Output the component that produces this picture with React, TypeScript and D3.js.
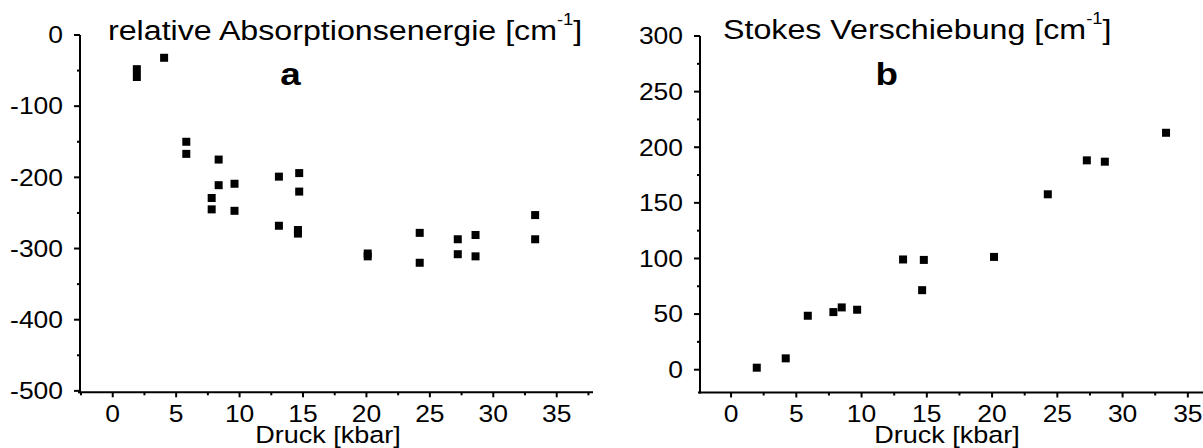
import React from "react";
import * as d3 from "d3";

// Panel a: relative absorption energy vs pressure
const pressureA = [1.9, 1.9, 4.05, 5.8, 5.8, 8.35, 8.35, 9.6, 7.8, 7.8, 9.6, 13.1, 14.7, 14.7, 13.1, 14.6, 14.6, 20.1, 20.1, 24.2, 24.2, 27.2, 27.2, 28.6, 28.6, 33.3, 33.3];
const energyA = [-48, -59, -32, -150, -167, -175, -211, -209, -229, -245, -247, -199, -194, -220, -268, -274, -279, -307, -311, -278, -320, -287, -308, -281, -311, -253, -287];

// Panel b: Stokes shift vs pressure
const pressureB = [1.97, 4.19, 5.88, 7.84, 8.48, 9.66, 13.18, 14.77, 14.64, 20.15, 24.27, 27.26, 28.64, 33.33];
const stokesB = [1.8, 10.2, 48.5, 51.8, 56, 53.9, 99.1, 98.7, 71.5, 101.4, 157.7, 188.2, 187, 213];

const xTicks = [0, 5, 10, 15, 20, 25, 30, 35];
const xMinorTicks = [-2.5, 2.5, 7.5, 12.5, 17.5, 22.5, 27.5, 32.5, 37.5];
const yTicksA = [0, -100, -200, -300, -400, -500];
const yMinorA = [-50, -150, -250, -350, -450];
const yTicksB = [0, 50, 100, 150, 200, 250, 300];
const yMinorB = [25, 75, 125, 175, 225, 275];

const FONT = "'Liberation Sans', Arial, Helvetica, sans-serif";
const SX = 1.15;

function SText({ x, y, size, anchor = "start", weight = "normal", children }: any) {
  return (
    <g transform={`translate(${x},${y}) scale(${SX},1)`}>
      <text x={0} y={0} fontSize={size} fontFamily={FONT} fontWeight={weight} textAnchor={anchor} fill="#000">
        {children}
      </text>
    </g>
  );
}

function Panel({ xs, ys, xDomain, xRange, yDomain, yRange, yTicks, yMinor, title, titleX, titleY, letter, letterX, xLabelX }: any) {
  const x = d3.scaleLinear().domain(xDomain).range(xRange);
  const y = d3.scaleLinear().domain(yDomain).range(yRange);
  const axisX = xRange[0];
  const axisY = yRange[0];
  const m = 8;
  return (
    <g>
      {/* y axis */}
      <line x1={axisX} x2={axisX} y1={yRange[1]} y2={axisY + 1} stroke="#000" strokeWidth={2} />
      {yTicks.map((t: number) => (
        <g key={"yt" + t}>
          <line x1={axisX - 6} x2={axisX} y1={y(t)} y2={y(t)} stroke="#000" strokeWidth={2} />
          <SText x={axisX - 17} y={y(t) + 8.3} size={23} anchor="end">{t}</SText>
        </g>
      ))}
      {yMinor.map((t: number) => (
        <line key={"ym" + t} x1={axisX - 3} x2={axisX} y1={y(t)} y2={y(t)} stroke="#000" strokeWidth={2} />
      ))}
      {/* x axis */}
      <line x1={axisX - 2} x2={xRange[1]} y1={axisY} y2={axisY} stroke="#000" strokeWidth={2} />
      {xTicks.map((t: number) => (
        <g key={"xt" + t}>
          <line x1={x(t)} x2={x(t)} y1={axisY} y2={axisY + 5} stroke="#000" strokeWidth={2} />
          <SText x={x(t)} y={421.5} size={23} anchor="middle">{t}</SText>
        </g>
      ))}
      {xMinorTicks.filter((t) => x(t) > axisX + 1).map((t: number) => (
        <line key={"xm" + t} x1={x(t)} x2={x(t)} y1={axisY} y2={axisY + 3} stroke="#000" strokeWidth={2} />
      ))}
      {/* markers */}
      {xs.map((v: number, i: number) => (
        <rect key={"p" + i} x={x(v) - m / 2} y={y(ys[i]) - m / 2} width={m} height={m} fill="#000" />
      ))}
      {/* title */}
      <SText x={titleX} y={titleY} size={28}>
        {title}
        <tspan fontSize={16} dy={-15}>-1</tspan>
        <tspan dy={15}>]</tspan>
      </SText>
      <SText x={letterX} y={85} size={32} anchor="middle" weight="bold">{letter}</SText>
      <SText x={xLabelX} y={442.5} size={23.5} anchor="middle">Druck [kbar]</SText>
    </g>
  );
}

export default function App() {
  return (
    <svg width={1203} height={448} style={{ position: "absolute", left: 0, top: 0, background: "#fff" }}>
      <rect x={0} y={0} width={1203} height={448} fill="#fff" />
      <Panel
        xs={pressureA}
        ys={energyA}
        xDomain={[-2.58, 37.86]}
        xRange={[80, 593]}
        yDomain={[-502, 0]}
        yRange={[392.3, 35]}
        yTicks={yTicksA}
        yMinor={yMinorA}
        title="relative Absorptionsenergie [cm"
        titleX={108}
        titleY={39.5}
        letter="a"
        letterX={290.5}
        xLabelX={328}
      />
      <Panel
        xs={pressureB}
        ys={stokesB}
        xDomain={[-2.38, 38]}
        xRange={[700, 1227]}
        yDomain={[-20.5, 300]}
        yRange={[392.5, 36]}
        yTicks={yTicksB}
        yMinor={yMinorB}
        title="Stokes Verschiebung [cm"
        titleX={723}
        titleY={39}
        letter="b"
        letterX={886.7}
        xLabelX={947}
      />
    </svg>
  );
}
